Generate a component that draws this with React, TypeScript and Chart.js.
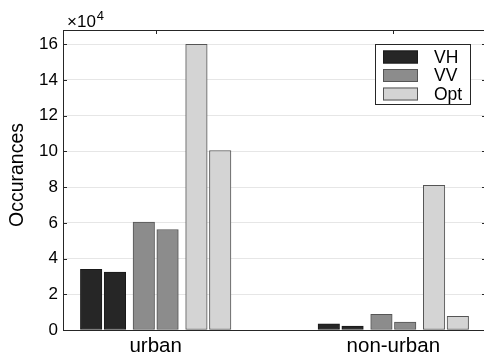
import React, { useEffect, useRef } from 'react';
import { Chart, registerables } from 'chart.js';
Chart.register(...registerables);

const categories = ['urban', 'non-urban'];
const seriesNames = ['VH', 'VH', 'VV', 'VV', 'Opt', 'Opt'];
const vhA = [34000, 3400];
const vhB = [32400, 2200];
const vvA = [60400, 8800];
const vvB = [56300, 4500];
const optA = [160000, 81000];
const optB = [100500, 7700];
const yTickValues = [0, 20000, 40000, 60000, 80000, 100000, 120000, 140000, 160000];
const legendLabels = ['VH', 'VV', 'Opt'];
const legendColors = ['#262626', '#8c8c8c', '#d4d4d4'];
const seriesColors = ['#262626', '#262626', '#8c8c8c', '#8c8c8c', '#d4d4d4', '#d4d4d4'];
const seriesOffsets = [-0.2715, -0.1715, -0.05, 0.05, 0.1715, 0.2715];
const yTitle = 'Occurances';
const exponentBase = '×10';
const exponent = '4';

const FONT = '"Liberation Sans", Arial, Helvetica, sans-serif';

export default function App() {
  const ref = useRef<HTMLCanvasElement | null>(null);

  useEffect(() => {
    document.body.style.margin = '0';
    const canvas = ref.current;
    if (!canvas) return;
    const allSeries = [vhA, vhB, vvA, vvB, optA, optB];
    const datasets = allSeries.map((vals, si) => ({
      label: seriesNames[si],
      data: vals.map((v, ci) => ({ x: ci + 1 + seriesOffsets[si], y: v })),
      backgroundColor: seriesColors[si],
      borderColor: si < 2 ? '#1a1a1a' : '#555555',
      borderWidth: 1,
      borderSkipped: false as const,
      barThickness: 21.5,
      grouped: false,
    }));

    const deco = {
      id: 'deco',
      afterDraw(chart: any) {
        const ctx = chart.ctx as CanvasRenderingContext2D;
        const a = chart.chartArea;
        const ys = chart.scales.y;
        const xs = chart.scales.x;
        ctx.save();
        ctx.strokeStyle = '#262626';
        ctx.lineWidth = 1;
        ctx.beginPath();
        ctx.moveTo(a.left, a.top + 0.5);
        ctx.lineTo(a.right, a.top + 0.5);
        ctx.moveTo(a.right - 0.5, a.top);
        ctx.lineTo(a.right - 0.5, a.bottom);
        ctx.stroke();
        ctx.beginPath();
        yTickValues.forEach((v) => {
          const py = Math.round(ys.getPixelForValue(v)) + 0.5;
          ctx.moveTo(a.left, py);
          ctx.lineTo(a.left + 4, py);
          ctx.moveTo(a.right, py);
          ctx.lineTo(a.right - 4, py);
        });
        categories.forEach((_, i) => {
          const px = Math.round(xs.getPixelForValue(i + 1)) + 0.5;
          ctx.moveTo(px, a.top);
          ctx.lineTo(px, a.top + 4);
        });
        ctx.stroke();

        const lx = 375, ly = 44, lw = 95, lh = 60;
        ctx.fillStyle = '#ffffff';
        ctx.fillRect(lx, ly, lw, lh);
        ctx.strokeStyle = '#262626';
        ctx.strokeRect(lx + 0.5, ly + 0.5, lw, lh);
        ctx.font = `17.5px ${FONT}`;
        ctx.textBaseline = 'middle';
        ctx.textAlign = 'left';
        legendLabels.forEach((lab, i) => {
          const cy = 57 + i * 18.5;
          ctx.fillStyle = legendColors[i];
          ctx.fillRect(383, cy - 6.5, 35, 13);
          ctx.strokeStyle = i === 0 ? '#1a1a1a' : '#555555';
          ctx.strokeRect(383.5, cy - 6, 34, 12);
          ctx.fillStyle = '#000000';
          ctx.fillText(lab, 434, cy + 1);
        });

        ctx.fillStyle = '#000000';
        ctx.textBaseline = 'alphabetic';
        ctx.font = `17px ${FONT}`;
        ctx.fillText(exponentBase, 67, 26.5);
        const w = ctx.measureText(exponentBase).width;
        ctx.font = `13px ${FONT}`;
        ctx.fillText(exponent, 67 + w + 1, 20);

        ctx.translate(17.5, 175);
        ctx.rotate(-Math.PI / 2);
        ctx.font = `19.5px ${FONT}`;
        ctx.textAlign = 'center';
        ctx.textBaseline = 'middle';
        ctx.fillText(yTitle, 0, 0);
        ctx.restore();
      },
    };

    const chart = new Chart(canvas, {
      type: 'bar',
      data: { datasets: datasets as any },
      options: {
        animation: false,
        responsive: false,
        devicePixelRatio: 1,
        layout: { padding: { top: 30, left: 0, right: 0, bottom: 0 } },
        plugins: { legend: { display: false }, tooltip: { enabled: false } },
        scales: {
          x: {
            type: 'linear',
            min: 0.61,
            max: 2.39,
            offset: false,
            afterBuildTicks: (scale: any) => {
              scale.ticks = categories.map((_, i) => ({ value: i + 1 }));
            },
            afterFit: (scale: any) => {
              scale.height = 30;
            },
            ticks: {
              callback: (v: any) => categories[Math.round(Number(v)) - 1] ?? '',
              font: { family: FONT, size: 20.5 },
              color: '#000000',
              padding: 4,
              maxRotation: 0,
              autoSkip: false,
            },
            grid: { display: false, drawTicks: false },
            border: { display: true, color: '#262626', width: 1 },
          },
          y: {
            type: 'linear',
            min: 0,
            max: 168000,
            afterBuildTicks: (scale: any) => {
              scale.ticks = yTickValues.map((v) => ({ value: v }));
            },
            afterFit: (scale: any) => {
              scale.width = 63;
            },
            ticks: {
              callback: (v: any) => String(Number(v) / 10000),
              font: { family: FONT, size: 17 },
              color: '#000000',
              padding: 5,
            },
            grid: { color: '#e6e6e6', lineWidth: 1, drawTicks: false },
            border: { display: true, color: '#262626', width: 1 },
          },
        },
      },
      plugins: [deco],
    });
    return () => chart.destroy();
  }, []);

  return (
    <div style={{ width: 484, height: 360, overflow: 'hidden', background: '#fff' }}>
      <canvas ref={ref} width={486} height={360} style={{ display: 'block' }} />
    </div>
  );
}
